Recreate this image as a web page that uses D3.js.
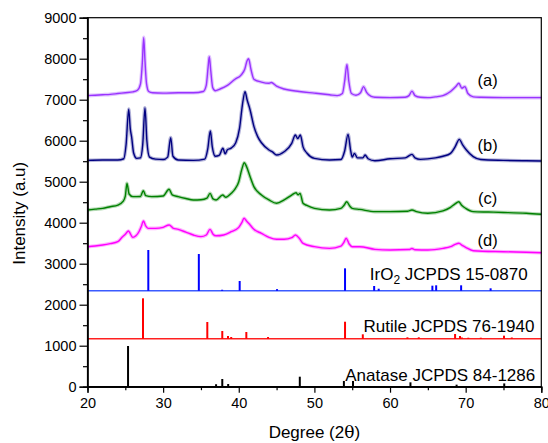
<!DOCTYPE html>
<html>
<head>
<meta charset="utf-8">
<script src="https://cdn.jsdelivr.net/npm/d3@7"></script>
<style>
  body { margin: 0; background: #fff; }
  text { font-family: "Liberation Sans", Arial, sans-serif; }
</style>
</head>
<body>
<svg id="chart" width="548" height="443"></svg>
<script>
// XRD patterns [2theta, intensity]
const seriesA = [[20,7100],[21,7110],[22,7120],[23,7130],[24,7150],[25,7170],[26,7190],[26.6,7230],[27.0,7380],[27.25,7900],[27.43,8520],[27.6,7950],[27.8,7400],[28.1,7200],[28.6,7170],[30,7160],[32,7170],[34,7170],[35.3,7200],[35.7,7350],[35.95,7800],[36.1,8050],[36.3,7700],[36.55,7300],[36.9,7220],[37.5,7260],[38.5,7350],[39.5,7500],[40.3,7600],[40.8,7750],[41.1,7950],[41.3,8000],[41.6,7750],[42,7500],[43,7430],[44,7400],[44.3,7420],[45,7330],[46,7260],[48,7200],[50,7160],[52,7120],[53,7100],[53.7,7150],[54.0,7450],[54.3,7860],[54.55,7450],[54.9,7150],[55.5,7110],[56.1,7170],[56.5,7320],[56.9,7180],[57.5,7080],[58,7060],[60,7050],[62,7060],[62.5,7100],[62.9,7210],[63.3,7100],[64,7060],[65,7050],[66,7070],[67,7100],[68,7200],[68.7,7320],[69.1,7400],[69.5,7280],[69.9,7320],[70.3,7150],[71,7070],[72,7060],[75,7050],[78,7050],[80,7050]];
const seriesB = [[20,5520],[22,5530],[24,5530],[24.8,5560],[25.1,5900],[25.45,6770],[25.65,6300],[25.84,6080],[26.1,5700],[26.5,5570],[27.0,5580],[27.3,5900],[27.6,6800],[27.85,6000],[28.2,5600],[29,5550],[30,5540],[30.6,5600],[31.0,6075],[31.3,5620],[32,5530],[34,5520],[35.5,5550],[35.9,5800],[36.24,6236],[36.5,5850],[36.9,5620],[37.4,5640],[37.9,5815],[38.2,5680],[38.5,5780],[39,5820],[39.6,5950],[40.1,6300],[40.5,6900],[40.83,7195],[41.1,7000],[41.5,6750],[42,6350],[42.5,6100],[43,5950],[44,5773],[44.5,5720],[45,5650],[46,5730],[47,5935],[47.48,6140],[47.8,6050],[48.14,6140],[48.5,5850],[49,5700],[50,5570],[52,5530],[53.5,5540],[54.0,5750],[54.45,6155],[54.8,5750],[55.0,5600],[55.3,5690],[55.7,5580],[56.4,5580],[56.7,5650],[57.1,5560],[58,5510],[60,5560],[62,5580],[62.9,5667],[63.3,5580],[64,5545],[66,5580],[67,5620],[68,5690],[68.6,5850],[69.16,6033],[69.6,5900],[70.1,5773],[71,5610],[72,5540],[75,5520],[78,5510],[80,5505]];
const seriesC = [[20,4310],[21,4330],[22,4350],[23,4390],[24,4430],[24.7,4520],[25.0,4650],[25.22,4960],[25.5,4700],[26,4635],[27,4640],[27.38,4780],[27.7,4660],[28.5,4635],[30,4650],[30.78,4815],[31.2,4680],[32,4635],[33,4590],[34,4555],[35,4560],[35.8,4600],[36.2,4716],[36.6,4580],[37,4555],[37.87,4675],[38.3,4620],[39,4716],[39.5,4820],[40.0,5000],[40.4,5300],[40.73,5463],[41.0,5380],[41.5,5120],[42,4880],[43,4675],[44,4555],[45,4473],[46,4555],[47,4675],[47.57,4730],[47.85,4680],[48.1,4716],[48.5,4473],[49,4420],[50,4350],[52,4310],[53.5,4350],[53.9,4420],[54.27,4512],[54.7,4400],[55,4350],[56,4325],[58,4270],[60,4270],[62.3,4280],[62.9,4310],[63.5,4270],[65,4230],[67,4290],[68,4375],[68.6,4460],[69.08,4512],[69.5,4420],[70,4350],[71,4270],[73,4260],[75,4250],[78,4230],[80,4205]];
const seriesD = [[20,3415],[21,3430],[22,3455],[23,3490],[24,3537],[24.6,3650],[25,3717],[25.4,3797],[26,3643],[26.4,3680],[26.8,3780],[27.1,3900],[27.4,4040],[27.7,3920],[28,3862],[29,3862],[30,3887],[30.8,3944],[31.3,3870],[32,3838],[33,3770],[34,3700],[35,3660],[35.7,3700],[36.2,3838],[36.6,3720],[37,3680],[38,3700],[39,3780],[40,3887],[40.4,4000],[40.7,4107],[41.0,4050],[41.5,3944],[42,3838],[43,3740],[44,3643],[45,3595],[46,3595],[47,3635],[47.5,3700],[48.0,3620],[48.5,3497],[50,3415],[52,3375],[53.5,3430],[53.9,3520],[54.2,3620],[54.6,3480],[55,3415],[56,3415],[58,3350],[60,3334],[62.5,3345],[62.9,3370],[63.3,3340],[65,3334],[67,3375],[68,3415],[68.6,3470],[69.1,3497],[69.6,3440],[70,3400],[71,3317],[75,3293],[78,3280],[80,3268]];

// reference sticks [2theta, top], drawn from each card's baseline
const iro2Base = 2340;
const iro2Sticks = [[28.04,3334],[34.72,3236],[37.8,2365],[40.12,2578],[45.06,2380],[54.05,2887],[57.9,2456],[58.5,2390],[65.6,2464],[66.1,2473],[69.4,2473],[73.3,2400]];
const rutileBase = 1170;
const rutileSticks = [[27.34,2156],[35.84,1578],[37.82,1358],[38.58,1237],[39.0,1212],[41.0,1334],[43.87,1212],[54.05,1585],[56.4,1278],[62.3,1205],[63.8,1205],[68.6,1285],[69.25,1237],[69.5,1200],[70.35,1195],[72.0,1195],[75.07,1245],[76.1,1200]];
const anataseBase = 0;
const anataseSticks = [[25.36,993],[37.0,60],[37.82,188],[38.6,66],[48.07,244],[53.9,140],[55.1,140],[62.7,107],[68.8,50],[75.1,80]];

const xTicks = [20, 30, 40, 50, 60, 70, 80];
const yTicks = [0, 1000, 2000, 3000, 4000, 5000, 6000, 7000, 8000, 9000];
const curveLabels = ['(a)', '(b)', '(c)', '(d)'];
const curveLabelVals = [7340, 5750, 4460, 3420];

const svg = d3.select('#chart');
const margin = { top: 17.7, right: 6.7, bottom: 56.3, left: 87.5 };
const W = 548 - margin.left - margin.right;
const H = 443 - margin.top - margin.bottom;
const g = svg.append('g').attr('transform', `translate(${margin.left},${margin.top})`);

const x = d3.scaleLinear().domain([20, 80]).range([0, W]);
const y = d3.scaleLinear().domain([0, 9000]).range([H, 0]);

const line = d3.line()
  .x(d => x(d[0]))
  .y(d => y(d[1]))
  .curve(d3.curveMonotoneX);

const traces = [
  { data: seriesA, color: '#9933ff' },
  { data: seriesB, color: '#000080' },
  { data: seriesC, color: '#008000' },
  { data: seriesD, color: '#ff00ff' }
];

// fuzzy halo + core to mimic the noisy scans
traces.forEach(t => {
  g.append('path').datum(t.data)
    .attr('d', line).attr('fill', 'none')
    .attr('stroke', t.color).attr('stroke-width', 3.6)
    .attr('stroke-opacity', 0.3).attr('stroke-linejoin', 'round');
  g.append('path').datum(t.data)
    .attr('d', line).attr('fill', 'none')
    .attr('stroke', t.color).attr('stroke-width', 1.4)
    .attr('stroke-linejoin', 'round');
});

const cards = [
  { base: iro2Base, sticks: iro2Sticks, color: '#0000ff', baseColor: '#3b5bff' },
  { base: rutileBase, sticks: rutileSticks, color: '#ff0000', baseColor: '#ff2020' },
  { base: anataseBase, sticks: anataseSticks, color: '#000000', baseColor: '#000000' }
];

cards.forEach(c => {
  g.append('line')
    .attr('x1', 0).attr('x2', W)
    .attr('y1', y(c.base)).attr('y2', y(c.base))
    .attr('stroke', c.baseColor).attr('stroke-width', 1.4);
  g.selectAll(null).data(c.sticks).enter().append('line')
    .attr('x1', d => x(d[0])).attr('x2', d => x(d[0]))
    .attr('y1', y(c.base)).attr('y2', d => y(d[1]))
    .attr('stroke', c.color).attr('stroke-width', 2);
});

// frame
g.append('rect').attr('width', W).attr('height', H)
  .attr('fill', 'none').attr('stroke', '#000').attr('stroke-width', 1.2);

// axes
const xAxis = g.append('g').attr('transform', `translate(0,${H})`)
  .call(d3.axisBottom(x).tickValues(xTicks).tickSize(6).tickPadding(5).tickFormat(d3.format('d')));
g.append('g').attr('transform', `translate(0,${H})`)
  .call(d3.axisBottom(x).tickValues(d3.range(25, 80, 10)).tickSize(3.5).tickFormat(''));
const yAxis = g.append('g')
  .call(d3.axisLeft(y).tickValues(yTicks).tickSize(8).tickPadding(3).tickFormat(d3.format('d')));
g.append('g')
  .call(d3.axisLeft(y).tickValues(d3.range(500, 9000, 1000)).tickSize(4.5).tickFormat(''));

g.selectAll('.domain').attr('stroke', '#000').attr('stroke-width', 1.2);
g.selectAll('.tick line').attr('stroke', '#000').attr('stroke-width', 1.2);
g.selectAll('.tick text').attr('font-size', 14.5)
  .attr('font-family', '"Liberation Sans", Arial, sans-serif').attr('fill', '#000');

// curve labels
g.selectAll(null).data(curveLabels).enter().append('text')
  .attr('x', x(72.9))
  .attr('y', (d, i) => y(curveLabelVals[i]))
  .attr('text-anchor', 'middle')
  .attr('font-size', 16.5)
  .text(d => d);

// card labels
const iro2 = g.append('text').attr('x', x(78.2)).attr('y', y(2590))
  .attr('text-anchor', 'end').attr('font-size', 17);
iro2.append('tspan').text('IrO');
iro2.append('tspan').attr('font-size', 12).attr('dy', 4).text('2');
iro2.append('tspan').attr('dy', -4).text(' JCPDS 15-0870');

g.append('text').attr('x', x(79.1)).attr('y', y(1335))
  .attr('text-anchor', 'end').attr('font-size', 17).text('Rutile JCPDS 76-1940');
g.append('text').attr('x', x(79.2)).attr('y', y(150))
  .attr('text-anchor', 'end').attr('font-size', 17).text('Anatase JCPDS 84-1286');

// axis titles
svg.append('text')
  .attr('transform', `translate(25,${margin.top + H * 0.53}) rotate(-90)`)
  .attr('text-anchor', 'middle').attr('font-size', 17)
  .text('Intensity (a.u)');

const xt = svg.append('text')
  .attr('x', margin.left + W / 2).attr('y', 438)
  .attr('text-anchor', 'middle').attr('font-size', 17);
xt.append('tspan').text('Degree (2');
xt.append('tspan').attr('font-family', '"DejaVu Serif", "Liberation Serif", serif').text('θ');
xt.append('tspan').text(')');
</script>
</body>
</html>
